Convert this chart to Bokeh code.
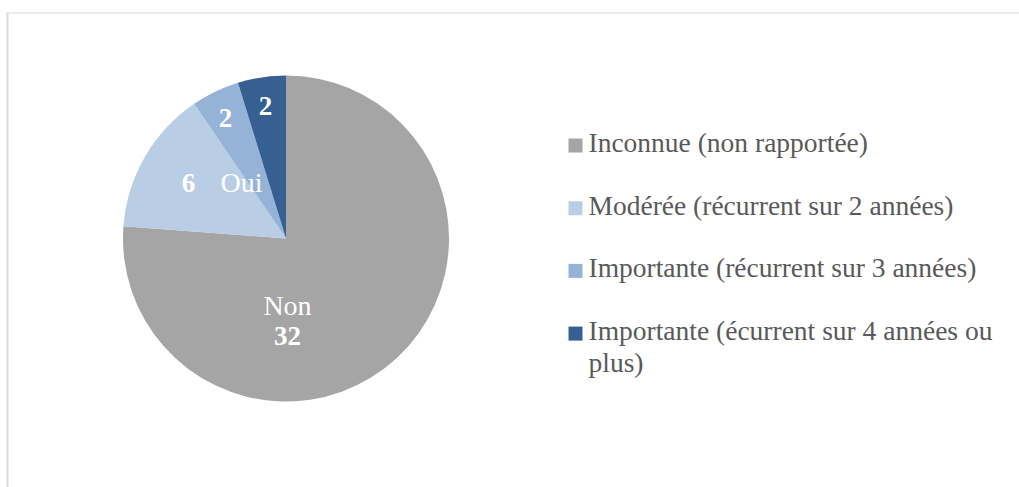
import math
import textwrap
from bokeh.plotting import figure
from bokeh.models import Range1d, ColumnDataSource
from bokeh.core.properties import value
from bokeh.embed import file_html
from bokeh.resources import INLINE

# ---- data ----
categories = [
    "Inconnue (non rapportée)",
    "Modérée (récurrent sur 2 années)",
    "Importante (récurrent sur 3 années)",
    "Importante (écurrent sur 4 années ou plus)",
]
counts = [32, 6, 2, 2]
colors = ["#a5a5a5", "#b9cde5", "#95b3d7", "#366092"]
group_labels = ["Non", "Oui"]

# ---- layout ----
W, H = 1019, 487
FONT = "Liberation Serif"
TXT_DY = -10  # baseline correction


def sy(y):
    return H - y


p = figure(width=W, height=H, x_range=Range1d(0, W), y_range=Range1d(0, H),
           output_backend="svg", toolbar_location=None, min_border=0)
p.axis.visible = False
p.grid.visible = False
p.outline_line_color = None
p.background_fill_color = "white"
p.border_fill_color = "white"

# frame
p.line(x=[7, 7], y=[sy(12.5), sy(H)], line_color="#d9d9d9", line_width=2)
p.line(x=[6, W], y=[sy(12.5), sy(12.5)], line_color="#d9d9d9", line_width=1)

# pie
cx, cy, r = 285.5, sy(238), 163
total = sum(counts)
starts, ends = [], []
cum = 0
for c in counts:
    a1 = math.pi / 2 - 2 * math.pi * cum / total
    cum += c
    a2 = math.pi / 2 - 2 * math.pi * cum / total
    starts.append(a2)
    ends.append(a1)
src = ColumnDataSource(dict(start=starts, end=ends, color=colors))
p.wedge(x=cx, y=cy, radius=r, start_angle="start", end_angle="end",
        fill_color="color", line_color="white", line_width=0, source=src)

# value labels (bold)
val_pos = [(287, 345), (188, 192), (225, 127), (265, 115)]
p.text(x=[q[0] for q in val_pos], y=[sy(q[1] + TXT_DY) for q in val_pos],
       text=[str(c) for c in counts], text_color="white", text_font=value(FONT),
       text_font_style="bold", text_font_size="27px", text_align="center",
       text_baseline="alphabetic")

# group labels
grp_pos = [(287, 315), (241, 192)]
p.text(x=[q[0] for q in grp_pos], y=[sy(q[1] + TXT_DY) for q in grp_pos],
       text=group_labels, text_color="white", text_font=value(FONT),
       text_font_size="28px", text_align="center", text_baseline="alphabetic")

# legend
base0, step, line_step = 152, 62.7, 32
lx, ly, lt = [], [], []
sq_x, sq_y = [], []
for i, lab in enumerate(categories):
    b = base0 + i * step
    sq_x.append(575)
    sq_y.append(sy(b - 7))
    for j, line in enumerate(textwrap.wrap(lab, 36)):
        lx.append(588)
        ly.append(sy(b + j * line_step + TXT_DY))
        lt.append(line)
p.rect(x=sq_x, y=sq_y, width=14, height=14, fill_color=colors, line_color=None)
p.text(x=lx, y=ly, text=lt, text_color="#595959", text_font=value(FONT),
       text_font_size="27.5px", text_align="left", text_baseline="alphabetic")

open("out.html", "w").write(file_html(p, INLINE))
